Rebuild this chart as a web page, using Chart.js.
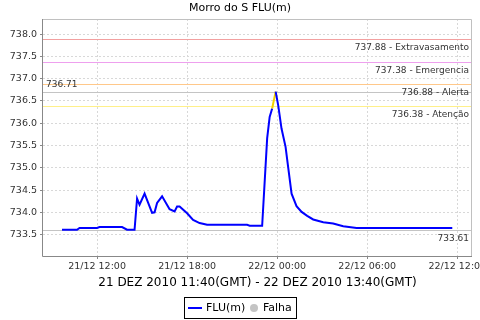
<!DOCTYPE html>
<html><head><meta charset="utf-8">
<script src="https://cdn.jsdelivr.net/npm/chart.js@4/dist/chart.umd.min.js"></script>
<style>html,body{margin:0;padding:0;background:#fff}canvas{display:block}</style>
</head><body>
<canvas id="c" width="480" height="320"></canvas>
<script>
const chartTitle = 'Morro do S FLU(m)';
const xAxisTitle = '21 DEZ 2010 11:40(GMT) - 22 DEZ 2010 13:40(GMT)';
// hours counted from 21/12 00:00
const timeHours = [9.667,10.667,10.833,12.0,12.167,13.667,14.0,14.5,14.667,14.833,15.167,15.667,15.833,16.0,16.333,16.833,17.167,17.333,17.5,18.0,18.4,18.833,19.333,22.0,22.167,23.0,23.333,23.5,23.667,23.9,24.07,24.29,24.56,24.73,24.96,25.29,25.63,26.0,26.4,27.07,27.73,28.4,29.29,35.667];
const fluValues = [733.61,733.61,733.65,733.65,733.67,733.67,733.61,733.61,734.31,734.17,734.42,733.99,734.0,734.21,734.36,734.07,734.02,734.13,734.13,733.98,733.83,733.76,733.72,733.72,733.70,733.70,735.66,736.14,736.33,736.71,736.40,735.88,735.47,735.02,734.42,734.14,734.01,733.92,733.84,733.78,733.75,733.69,733.65,733.65];
const xTickHours = [12,18,24,30,36];
const xTickLabels = ['21/12 12:00','21/12 18:00','22/12 00:00','22/12 06:00','22/12 12:00'];
const yTickValues = [733.5,734.0,734.5,735.0,735.5,736.0,736.5,737.0,737.5,738.0];
const thresholdValues = [737.88,737.38,736.88,736.38];
const thresholdNames = ['Extravasamento','Emergencia','Alerta','Atenção'];
const thresholdColors = ['#f2a0a0','#eea0ee','#ffc88a','#fff08a'];
const maxValue = 736.71;
const minValue = 733.61;
const legendLabels = ['FLU(m)','Falha'];

const FONT = '"DejaVu Sans", sans-serif';
const points = timeHours.map((t,i)=>({x:t,y:fluValues[i]}));

const decor = {
  id:'decor',
  beforeDatasetsDraw(chart){
    const {ctx, chartArea:a, scales:{y}} = chart;
    ctx.save();
    ctx.lineWidth = 1;
    const pix = v => Math.round(y.getPixelForValue(v))+0.5;
    const hline = (v,col)=>{
      const py = pix(v);
      ctx.strokeStyle = col; ctx.beginPath(); ctx.moveTo(a.left,py); ctx.lineTo(a.right,py); ctx.stroke();
    };
    thresholdValues.forEach((v,i)=>hline(v,thresholdColors[i]));
    hline(maxValue,'#c4c4c4');
    hline(minValue,'#c4c4c4');
    ctx.font = '9px '+FONT; ctx.fillStyle = '#333'; ctx.textBaseline='middle';
    thresholdValues.forEach((v,i)=>{
      ctx.textAlign='right';
      ctx.fillText(v.toFixed(2)+' - '+thresholdNames[i], a.right-3, pix(v)+8);
    });
    ctx.textAlign='left'; ctx.fillText(maxValue.toFixed(2), a.left+3, pix(maxValue)-8);
    ctx.textAlign='right'; ctx.fillText(minValue.toFixed(2), a.right-3, pix(minValue)+8);
    ctx.restore();
  },
  afterDraw(chart){
    const {ctx, chartArea:a} = chart;
    ctx.save();
    ctx.lineWidth = 1;
    ctx.strokeStyle = '#c0c0c0';
    ctx.beginPath(); ctx.moveTo(a.left, a.top+0.5); ctx.lineTo(a.right-0.5, a.top+0.5); ctx.lineTo(a.right-0.5, a.bottom); ctx.stroke();
    ctx.strokeStyle = '#888';
    ctx.beginPath(); ctx.moveTo(a.left-0.5, a.top); ctx.lineTo(a.left-0.5, a.bottom+0.5); ctx.lineTo(a.right, a.bottom+0.5); ctx.stroke();
    // title
    ctx.fillStyle = '#000'; ctx.font = '11px '+FONT; ctx.textAlign='center'; ctx.textBaseline='middle';
    ctx.fillText(chartTitle, 240, 8);
    // legend
    ctx.strokeStyle = '#000';
    ctx.strokeRect(184.5, 297.5, 112, 21);
    ctx.strokeStyle = '#0000ff'; ctx.lineWidth = 2;
    ctx.beginPath(); ctx.moveTo(188, 308); ctx.lineTo(202, 308); ctx.stroke();
    ctx.font = '11px '+FONT; ctx.textAlign='left'; ctx.fillStyle='#000';
    ctx.fillText(legendLabels[0], 206, 308);
    ctx.fillStyle = '#c4c4c4';
    ctx.beginPath(); ctx.arc(254, 308, 4, 0, Math.PI*2); ctx.fill();
    ctx.fillStyle='#000';
    ctx.fillText(legendLabels[1], 263, 308);
    ctx.restore();
  }
};

new Chart(document.getElementById('c'), {
  type:'line',
  data:{datasets:[{
    label:legendLabels[0],
    data:points,
    borderColor:'#0000ff',
    borderWidth:2,
    pointRadius:0,
    tension:0,
    segment:{borderColor: c => (c.p1.parsed.y >= thresholdValues[3] && c.p1.parsed.y > c.p0.parsed.y) ? '#f2d000' : undefined}
  }]},
  options:{
    responsive:false, animation:false, events:[],
    layout:{padding:{top:19,right:8,left:0,bottom:28}},
    plugins:{legend:{display:false},title:{display:false},tooltip:{enabled:false}},
    scales:{
      x:{
        type:'linear', min:8.4, max:36.98,
        afterBuildTicks:s=>{s.ticks = xTickHours.map(v=>({value:v}));},
        afterFit:s=>{s.height=36; s.paddingLeft=0; s.paddingRight=0;},
        grid:{color:'#d8d8d8', tickLength:3, tickColor:'#888', tickBorderDash:[]},
        border:{display:false, dash:[2,2]},
        ticks:{font:{family:FONT,size:9.5}, color:'#333', padding:2, maxRotation:0, autoSkip:false,
          callback:(v)=>{const i = xTickHours.indexOf(v); return i>=0 ? xTickLabels[i] : '';}},
        title:{display:true, text:xAxisTitle, font:{family:FONT,size:12}, color:'#000', padding:{top:0,bottom:2}}
      },
      y:{
        min:733.02, max:738.34,
        afterBuildTicks:s=>{s.ticks = yTickValues.map(v=>({value:v}));},
        afterFit:s=>{s.width=43; s.paddingTop=0; s.paddingBottom=0;},
        grid:{color:'#d8d8d8', tickLength:3, tickColor:'#888', tickBorderDash:[]},
        border:{display:false, dash:[2,2]},
        ticks:{font:{family:FONT,size:9.5}, color:'#333', padding:3, callback:v=>Number(v).toFixed(1)}
      }
    }
  },
  plugins:[decor]
});
</script>
</body></html>
